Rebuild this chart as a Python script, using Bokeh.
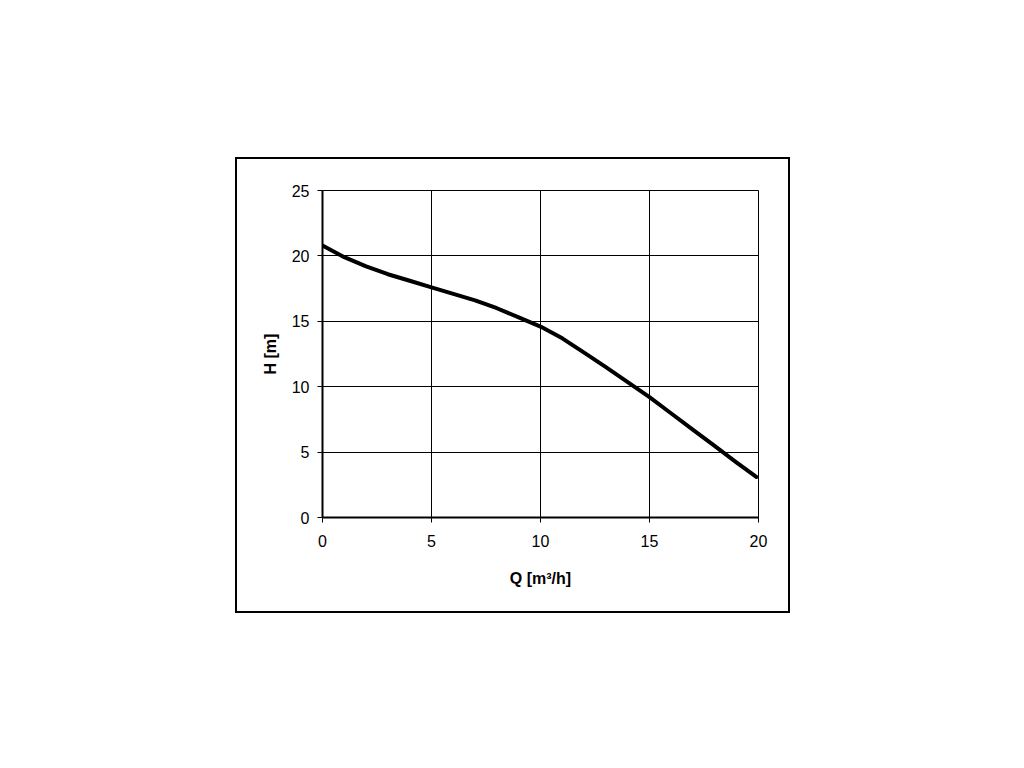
from bokeh.plotting import figure
from bokeh.models import FixedTicker, Range1d, Spacer
from bokeh.layouts import row, column
from bokeh.embed import file_html
from bokeh.resources import INLINE

# Data
flow_q = [0, 1, 2, 3, 4, 5, 6, 7, 8, 9, 10, 11, 12, 13, 14, 15, 16, 17, 18, 19, 19.9]
head_h = [20.8, 19.9, 19.2, 18.6, 18.1, 17.6, 17.1, 16.6, 16.0, 15.3, 14.6,
          13.7, 12.6, 11.5, 10.35, 9.2, 7.95, 6.7, 5.45, 4.2, 3.1]
x_ticks = [0, 5, 10, 15, 20]
y_ticks = [0, 5, 10, 15, 20, 25]

FONT = "Liberation Sans"

p = figure(width=551, height=452, output_backend="svg", toolbar_location=None,
           x_range=Range1d(0, 20), y_range=Range1d(0, 25),
           frame_width=436, frame_height=327,
           min_border_left=85, min_border_top=31,
           min_border_right=30, min_border_bottom=94)

p.background_fill_color = "white"
p.border_fill_color = "white"
p.outline_line_color = "black"
p.outline_line_width = 1
p.styles = {"outline": "2px solid black", "outline-offset": "0px"}

p.line(flow_q, head_h, line_color="black", line_width=4, line_join="round", line_cap="round")

for ax, ticks in ((p.xaxis[0], x_ticks), (p.yaxis[0], y_ticks)):
    ax.ticker = FixedTicker(ticks=ticks)
    ax.axis_line_color = "black"
    ax.axis_line_width = 2
    ax.major_tick_line_color = "black"
    ax.major_tick_line_width = 1
    ax.major_tick_out = 5
    ax.major_tick_in = 0
    ax.minor_tick_line_color = None
    ax.major_label_text_font = FONT
    ax.major_label_text_font_size = "16px"
    ax.major_label_text_color = "black"
    ax.axis_label_text_font = FONT
    ax.axis_label_text_font_size = "16px"
    ax.axis_label_text_font_style = "bold"
    ax.axis_label_text_color = "black"

p.xaxis.axis_label = "Q [m³/h]"
p.yaxis.axis_label = "H [m]"
p.xaxis.major_label_standoff = 12
p.yaxis.major_label_standoff = 8
p.xaxis.axis_label_standoff = 20
p.yaxis.axis_label_standoff = 10

for g in (p.xgrid[0], p.ygrid[0]):
    g.grid_line_color = "black"
    g.grid_line_width = 1
    g.grid_line_alpha = 1.0

layout = row(Spacer(width=237, height=10), column(Spacer(width=10, height=159), p))

open("out.html", "w").write(file_html(layout, INLINE))
